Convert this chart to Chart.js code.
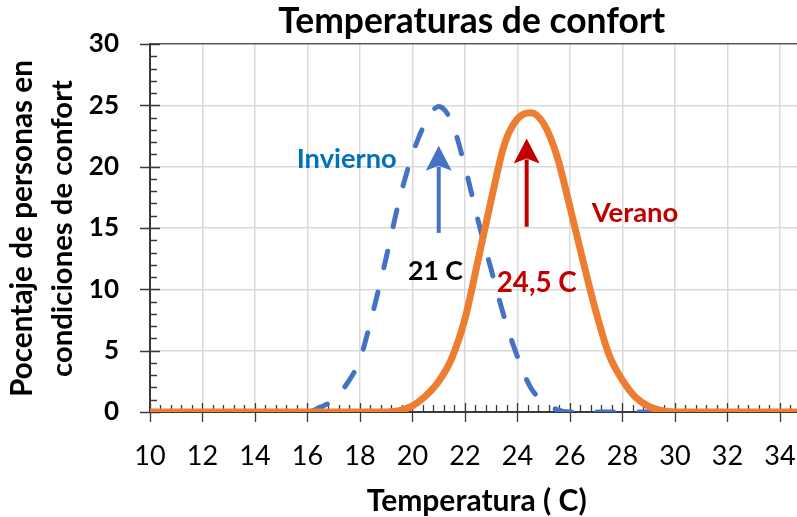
<!DOCTYPE html>
<html><head><meta charset="utf-8">
<script src="https://cdn.jsdelivr.net/npm/chart.js@4.4.1/dist/chart.umd.min.js"></script>
<style>html,body{margin:0;padding:0;background:#fff;}#wrap{width:797px;height:517px;position:relative;}</style>
</head><body><div id="wrap"><canvas id="c" width="797" height="517" style="width:797px;height:517px"></canvas></div>
<script>
// ---- data ----
const temperatures = [10, 15.5, 16, 16.5, 17, 17.5, 18, 18.5, 19, 19.5, 20, 20.5, 21, 21.5, 22, 22.5, 23, 23.5, 24, 24.5, 25, 25.5, 26, 26.5, 27, 27.5, 28, 28.5, 29, 29.5, 30, 34.65];
const winter      = [0, 0, 0, 0.4, 1.0, 2.3, 4.3, 8.2, 12.6, 17.3, 21.0, 23.6, 24.9, 23.6, 20.0, 15.6, 11.6, 7.7, 4.5, 2.0, 0.8, 0.2, 0, 0, 0, 0, 0, 0, 0, 0, 0, 0];
const summer      = [0, 0, 0, 0, 0, 0, 0, 0, 0, 0.1, 0.5, 1.3, 2.5, 4.4, 7.6, 12.4, 17.3, 21.8, 23.9, 24.4, 23.5, 20.9, 16.7, 12.3, 8.1, 4.6, 2.6, 1.2, 0.45, 0.1, 0, 0];
const seriesNames = ['Invierno', 'Verano'];
const xTickValues = [10, 12, 14, 16, 18, 20, 22, 24, 26, 28, 30, 32, 34];
const yTickValues = [0, 5, 10, 15, 20, 25, 30];
// arrows: temperature, from value, to value
const arrowTemps = [21, 24.35];
const arrowFrom  = [14.6, 15.1];
const arrowTo    = [21.7, 22.3];
const arrowLabels = ['21 C', '24,5 C'];

const BLUE = '#4472C4', ORANGE = '#ED7D31', DARKRED = '#C00000', LABELBLUE = '#0070C0';
const FONT = 'Lato, "Open Sans", sans-serif';

function pts(ys){ return temperatures.map((t,i)=>({x:t, y:ys[i]})); }

function fitText(ctx, text, cx, baseY, targetW, weight, color, rotate){
  ctx.save();
  ctx.font = weight + ' 20px ' + FONT;
  const w = ctx.measureText(text).width;
  const size = 20 * targetW / w;
  ctx.font = weight + ' ' + size.toFixed(2) + 'px ' + FONT;
  ctx.fillStyle = color;
  ctx.textAlign = 'center';
  ctx.textBaseline = 'alphabetic';
  if (rotate) {
    ctx.translate(baseY, cx);
    ctx.rotate(-Math.PI/2);
    ctx.fillText(text, 0, 0);
  } else {
    ctx.fillText(text, cx, baseY);
  }
  ctx.restore();
}

const axisTicks = {
  id: 'axisTicks',
  beforeDatasetsDraw(chart){
    const {ctx, scales:{x, y}, chartArea:a} = chart;
    ctx.save();
    ctx.strokeStyle = '#3a3a3a';
    ctx.lineWidth = 1.3;
    ctx.beginPath();
    for (let i = 0; i <= 30; i++) {
      const py = Math.round(y.getPixelForValue(i)) + 0.5;
      if (i % 5 === 0) { ctx.moveTo(a.left - 10, py); ctx.lineTo(a.left + 10, py); }
      else { ctx.moveTo(a.left, py); ctx.lineTo(a.left + 7, py); }
    }
    for (let i = 0; i <= 70; i++) {
      const v = 10 + i * 0.4;
      if (v > x.max) break;
      const px = Math.round(x.getPixelForValue(v)) + 0.5;
      if (i % 5 === 0) { ctx.moveTo(px, a.bottom - 9); ctx.lineTo(px, a.bottom + 10); }
      else { ctx.moveTo(px, a.bottom - 7); ctx.lineTo(px, a.bottom); }
    }
    ctx.stroke();
    ctx.restore();
  },
  afterDatasetsDraw(chart){
    const {ctx, scales:{x, y}} = chart;
    const cols = [BLUE, DARKRED];
    arrowTemps.forEach((t, i) => {
      const px = x.getPixelForValue(t);
      const y0 = y.getPixelForValue(arrowFrom[i]);
      const y1 = y.getPixelForValue(arrowTo[i]);
      const headL = 25, headW = 26;
      ctx.save();
      ctx.strokeStyle = cols[i]; ctx.fillStyle = cols[i];
      ctx.lineWidth = 4;
      ctx.beginPath(); ctx.moveTo(px, y0); ctx.lineTo(px, y1 + headL - 4); ctx.stroke();
      ctx.beginPath();
      ctx.moveTo(px, y1);
      ctx.lineTo(px - headW/2, y1 + headL);
      ctx.lineTo(px, y1 + headL - 5);
      ctx.lineTo(px + headW/2, y1 + headL);
      ctx.closePath(); ctx.fill();
      ctx.restore();
    });
  },
  afterDraw(chart){
    const ctx = chart.ctx;
    fitText(ctx, 'Temperaturas de confort', 471.7, 33, 387, 'bold', '#000');
    fitText(ctx, 'Pocentaje de personas en', 228.5, 31.5, 337, 'bold', '#000', true);
    fitText(ctx, 'condiciones de confort', 228.5, 71.5, 297, 'bold', '#000', true);
    fitText(ctx, 'Temperatura ( C)', 476.7, 511, 220, 'bold', '#000');
    fitText(ctx, seriesNames[0], 346.7, 168, 100, 'bold', LABELBLUE);
    fitText(ctx, seriesNames[1], 635, 221.5, 86.7, 'bold', DARKRED);
    fitText(ctx, arrowLabels[0], 435.5, 280, 55, 'bold', '#000');
    fitText(ctx, arrowLabels[1], 536.7, 292, 80, 'bold', DARKRED);
  }
};

new Chart(document.getElementById('c'), {
  type: 'line',
  data: {
    datasets: [
      { label: seriesNames[0], data: pts(winter), borderColor: BLUE, borderWidth: 5,
        borderDash: [17, 25], borderDashOffset: 6, borderCapStyle: 'round', borderJoinStyle: 'round',
        pointRadius: 0, cubicInterpolationMode: 'monotone', fill: false, order: 1 },
      { label: seriesNames[1], data: pts(summer), borderColor: ORANGE, borderWidth: 7,
        borderCapStyle: 'round', borderJoinStyle: 'round',
        pointRadius: 0, cubicInterpolationMode: 'monotone', fill: false, order: 0 }
    ]
  },
  options: {
    responsive: false, animation: false, devicePixelRatio: 1,
    layout: { padding: { top: 44, left: 0, right: 0, bottom: 0 } },
    plugins: { legend: { display: false }, title: { display: false }, tooltip: { enabled: false } },
    scales: {
      x: {
        type: 'linear', min: 10, max: 34.65,
        afterBuildTicks(s){ s.ticks = xTickValues.map(v => ({value: v})); },
        afterFit(s){ s.height = 105; s.paddingLeft = 0; s.paddingRight = 0; },
        grid: { color: '#d9d9d9', lineWidth: 1.5, drawTicks: false },
        border: { display: true, color: '#3a3a3a', width: 2 },
        ticks: { color: '#000', font: { family: FONT, size: 27 }, padding: 28, maxRotation: 0, autoSkip: false }
      },
      y: {
        min: 0, max: 30,
        afterBuildTicks(s){ s.ticks = yTickValues.map(v => ({value: v})); },
        afterFit(s){ s.width = 150; s.paddingTop = 0; s.paddingBottom = 0; },
        grid: { color: (c) => c.tick && c.tick.value === 30 ? '#595959' : '#d9d9d9', lineWidth: 1.5, drawTicks: false },
        border: { display: true, color: '#3a3a3a', width: 2 },
        ticks: { color: '#000', font: { family: FONT, size: 26, weight: 'bold' }, padding: 31 }
      }
    }
  },
  plugins: [axisTicks]
});
</script></body></html>
